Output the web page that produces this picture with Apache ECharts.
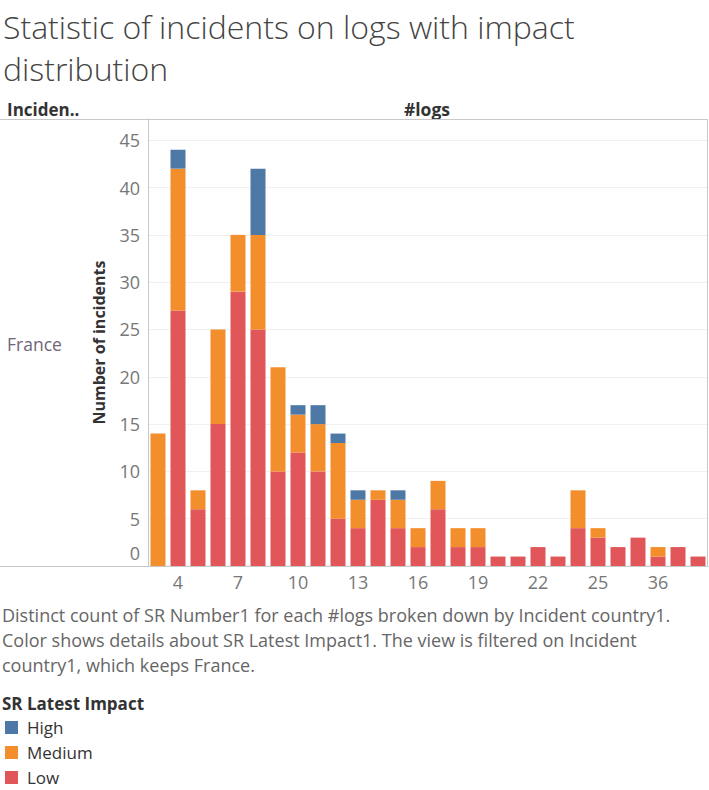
<!DOCTYPE html>
<html>
<head>
<meta charset="utf-8">
<script src="https://cdn.jsdelivr.net/npm/echarts@6/dist/echarts.min.js"></script>
<style>
  html, body { margin: 0; padding: 0; background: #fff; }
  #chart { width: 709px; height: 790px; }
</style>
</head>
<body>
<div id="chart"></div>
<script>
let myChart = echarts.init(document.getElementById('chart'), null, {renderer: 'svg'});

// #logs buckets (only every third label is shown on the axis)
const logCounts = ['3', '4', '5', '6', '7', '8', '9', '10', '11', '12', '13', '14', '15', '16',
    '17', '18', '19', '20', '21', '22', '23', '24', '25', '27', '31', '36', '40', '47'];
const lowValues = [0, 27, 6, 15, 29, 25, 10, 12, 10, 5, 4, 7, 4, 2,
    6, 2, 2, 1, 1, 2, 1, 4, 3, 2, 3, 1, 2, 1];
const mediumValues = [14, 15, 2, 10, 6, 10, 11, 4, 5, 8, 3, 1, 3, 2,
    3, 2, 2, 0, 0, 0, 0, 4, 1, 0, 0, 1, 0, 0];
const highValues = [0, 2, 0, 0, 0, 7, 0, 1, 2, 1, 1, 0, 1, 0,
    0, 0, 0, 0, 0, 0, 0, 0, 0, 0, 0, 0, 0, 0];
const impactNames = ['High', 'Medium', 'Low'];
const captionLines = [
    'Distinct count of SR Number1 for each #logs broken down by Incident country1.',
    'Color shows details about SR Latest Impact1. The view is filtered on Incident',
    'country1, which keeps France.'
];

const font = '"Open Sans", "Noto Sans", sans-serif';
const frameColor = '#c8c8c8';

let barSeries = function (name, values, color) {
    return {
        name: name,
        type: 'bar',
        stack: 'impact',
        barWidth: 15,
        itemStyle: {color: color},
        emphasis: {disabled: true},
        data: values
    };
};

let option = {
    animation: false,
    textStyle: {fontFamily: font},
    title: {
        text: 'Statistic of incidents on logs with impact\ndistribution',
        left: 3,
        top: 5,
        padding: 0,
        textStyle: {
            fontFamily: font,
            fontSize: 32,
            fontWeight: 300,
            lineHeight: 42,
            color: '#444'
        }
    },
    legend: {
        data: impactNames,
        orient: 'vertical',
        left: 5,
        top: 719,
        height: 100,
        padding: 0,
        icon: 'rect',
        itemWidth: 13,
        itemHeight: 13,
        itemGap: 8,
        textStyle: {fontFamily: font, fontSize: 17, color: '#333', padding: [0, 0, 0, 4]}
    },
    grid: {left: 148, right: 1, top: 119, bottom: 224},
    xAxis: {
        type: 'category',
        data: logCounts,
        axisLine: {show: true, lineStyle: {color: frameColor}},
        axisTick: {show: false},
        axisLabel: {
            interval: function (index) { return index % 3 === 1; },
            color: '#777',
            fontSize: 18,
            margin: 7
        }
    },
    yAxis: {
        type: 'value',
        name: 'Number of incidents',
        nameLocation: 'middle',
        nameGap: 41,
        nameTextStyle: {fontFamily: font, fontSize: 16, fontWeight: 'bold', color: '#333'},
        min: 0,
        max: 47.25,
        interval: 5,
        axisLine: {show: true, lineStyle: {color: frameColor}},
        axisTick: {show: false},
        splitLine: {lineStyle: {color: '#f0f0f0'}},
        axisLabel: {
            color: '#777',
            fontSize: 18,
            margin: 8,
            formatter: function (v) {
                if (v % 5 !== 0) return '';
                return v === 0 ? '{z|0}' : String(v);
            },
            rich: {z: {fontSize: 18, color: '#777', padding: [0, 0, 26, 0]}}
        }
    },
    graphic: [
        {type: 'line', shape: {x1: 0, y1: 119.5, x2: 708, y2: 119.5}, style: {stroke: frameColor, lineWidth: 1}, z: 10},
        {type: 'line', shape: {x1: 0, y1: 566.5, x2: 148, y2: 566.5}, style: {stroke: frameColor, lineWidth: 1}, z: 10},
        {type: 'line', shape: {x1: 707.5, y1: 119, x2: 707.5, y2: 567}, style: {stroke: frameColor, lineWidth: 1}, z: 10},
        {type: 'text', x: 7, y: 109, style: {text: 'Inciden..', fontFamily: font, fontSize: 17, fontWeight: 'bold', fill: '#333', verticalAlign: 'middle'}},
        {type: 'text', x: 427, y: 109, style: {text: '#logs', fontFamily: font, fontSize: 17.5, fontWeight: 'bold', fill: '#333', align: 'center', verticalAlign: 'middle'}},
        {type: 'text', x: 7, y: 344, style: {text: 'France', fontFamily: font, fontSize: 17.5, fill: '#6f6478', verticalAlign: 'middle'}},
        {type: 'text', x: 2, y: 602, style: {text: captionLines.join('\n'), fontFamily: font, fontSize: 18, lineHeight: 25, fill: '#666'}},
        {type: 'text', x: 2, y: 703, style: {text: 'SR Latest Impact', fontFamily: font, fontSize: 17, fontWeight: 'bold', fill: '#333', verticalAlign: 'middle'}}
    ],
    series: [
        barSeries('Low', lowValues, '#e15759'),
        barSeries('Medium', mediumValues, '#f28e2b'),
        barSeries('High', highValues, '#4e79a7')
    ]
};

myChart.setOption(option);
</script>
</body>
</html>
